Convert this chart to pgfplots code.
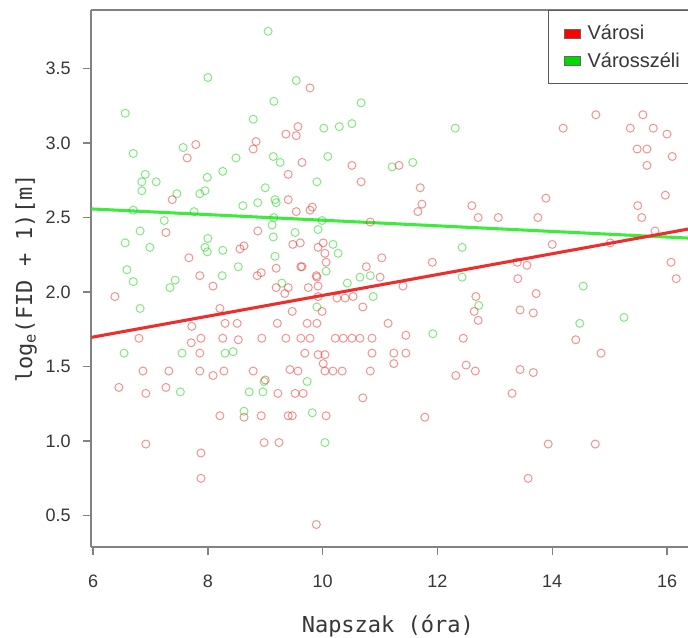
\documentclass[border=0pt]{standalone}
\usepackage{fontspec}
\setmainfont{Liberation Sans}
\setmonofont{DejaVu Sans Mono}
\usepackage{pgfplots}
\usepackage{pgfplotstable}
\pgfplotsset{compat=1.18}

\definecolor{axgray}{RGB}{130,130,130}
\definecolor{txtgray}{RGB}{55,55,55}
\definecolor{ptred}{RGB}{235,40,40}
\definecolor{ptgreen}{RGB}{30,215,30}
\definecolor{lnred}{RGB}{238,45,45}
\definecolor{lngreen}{RGB}{60,235,60}

% Városszéli (green)
\pgfplotstableread{
x y
9.05 3.75
8.00 3.44
9.54 3.42
9.15 3.28
10.67 3.27
6.56 3.20
8.79 3.16
12.31 3.10
10.02 3.10
10.29 3.11
10.51 3.13
7.57 2.97
6.70 2.93
8.49 2.90
9.14 2.91
9.26 2.87
10.09 2.91
11.21 2.84
11.57 2.87
8.26 2.81
7.99 2.77
6.91 2.79
6.85 2.74
7.10 2.74
6.85 2.68
9.90 2.74
9.00 2.70
7.46 2.66
7.86 2.66
7.95 2.68
9.17 2.62
9.19 2.60
8.61 2.58
8.87 2.60
6.70 2.55
7.76 2.54
9.15 2.50
7.24 2.48
9.99 2.48
9.92 2.42
6.82 2.41
6.56 2.33
6.99 2.30
8.00 2.36
7.95 2.30
7.99 2.27
9.12 2.45
9.14 2.37
9.52 2.40
10.18 2.32
10.27 2.26
8.26 2.28
9.17 2.24
8.53 2.17
6.59 2.15
6.70 2.07
8.25 2.11
10.06 2.14
10.65 2.10
10.83 2.11
12.43 2.30
12.43 2.10
9.29 2.06
10.43 2.06
7.43 2.08
7.34 2.03
10.88 1.97
9.90 1.90
6.82 1.89
12.72 1.91
14.54 2.04
11.92 1.72
14.48 1.79
15.25 1.83
6.54 1.59
7.55 1.59
8.30 1.59
8.44 1.60
7.52 1.33
8.72 1.33
8.96 1.33
8.98 1.40
9.73 1.40
9.82 1.19
8.63 1.20
10.04 0.99
}\szeli

% Városi (red)
\pgfplotstableread{
x y
9.78 3.37
9.57 3.11
9.36 3.06
9.54 3.05
7.79 2.99
8.84 3.01
8.79 2.96
7.64 2.90
9.64 2.87
10.51 2.85
10.67 2.74
9.40 2.79
7.38 2.62
9.40 2.62
9.82 2.57
9.78 2.55
9.54 2.54
7.27 2.40
8.87 2.41
9.48 2.32
9.61 2.33
10.01 2.33
9.92 2.30
10.04 2.26
10.06 2.20
8.63 2.31
8.56 2.29
7.67 2.23
11.03 2.23
9.62 2.17
10.76 2.17
9.19 2.16
7.86 2.11
8.93 2.13
8.86 2.11
9.89 2.11
11.00 2.10
11.33 2.85
11.70 2.70
11.73 2.59
11.66 2.54
10.83 2.47
14.76 3.19
15.58 3.19
14.19 3.10
15.36 3.10
15.76 3.10
16.00 3.06
15.48 2.96
15.65 2.96
16.09 2.91
15.65 2.85
15.97 2.65
12.60 2.58
12.71 2.50
13.06 2.50
13.75 2.50
13.89 2.63
15.49 2.58
15.56 2.50
15.79 2.41
15.01 2.33
14.00 2.32
11.91 2.20
13.39 2.20
13.56 2.18
16.07 2.20
16.16 2.09
13.40 2.09
11.40 2.04
13.72 1.99
12.67 1.97
12.64 1.87
12.71 1.81
13.44 1.88
13.67 1.86
11.14 1.79
11.45 1.71
12.45 1.69
14.41 1.68
14.85 1.59
11.24 1.59
11.45 1.59
11.24 1.52
12.50 1.51
12.32 1.44
12.66 1.47
13.44 1.48
13.67 1.46
13.30 1.32
11.78 1.16
13.93 0.98
14.75 0.98
13.58 0.75
6.38 1.97
6.80 1.69
7.72 1.77
7.71 1.66
7.88 1.69
7.86 1.59
8.26 1.69
8.53 1.68
8.21 1.89
8.30 1.79
8.51 1.79
8.94 1.69
9.21 1.79
9.36 1.69
9.62 1.69
9.78 1.69
9.73 1.79
9.90 1.79
9.47 1.87
9.69 1.59
9.92 1.58
10.04 1.58
10.01 1.52
10.22 1.69
10.36 1.69
10.51 1.69
10.65 1.69
10.86 1.69
10.86 1.59
10.70 1.90
6.87 1.47
7.32 1.47
7.86 1.47
8.09 1.44
8.28 1.47
8.79 1.47
9.43 1.48
9.57 1.47
10.04 1.47
10.18 1.47
10.34 1.47
10.83 1.47
6.45 1.36
6.92 1.32
7.27 1.36
9.22 1.32
9.52 1.32
9.66 1.32
10.70 1.29
8.21 1.17
8.63 1.16
8.93 1.17
9.40 1.17
9.47 1.17
10.06 1.17
6.92 0.98
8.98 0.99
9.24 0.99
7.88 0.92
7.88 0.75
9.89 0.44
8.09 2.04
9.19 2.03
9.40 2.03
9.34 1.99
9.64 2.17
9.90 2.10
9.75 2.03
9.92 2.04
9.92 1.97
10.25 1.96
10.39 1.96
10.53 1.97
9.99 1.87
9.00 1.41
}\varosi

\begin{document}
\begin{tikzpicture}
\begin{axis}[
    at={(0,0)}, anchor=south west,
    scale only axis,
    width=457.6pt, height=402.75pt,
    xmin=5.97, xmax=16.6,
    ymin=0.289, ymax=3.893,
    axis x line*=box, axis y line*=left,
    axis line style={-, draw=axgray, line width=1.3pt},
    tick pos=left,
    tick align=outside,
    major tick length=6pt,
    tick style={draw=axgray, line width=1pt},
    xtick={6,8,10,12,14,16},
    ytick={0.5,1,1.5,2,2.5,3,3.5},
    /pgf/number format/assume math mode=true,
    ticklabel style={font=\fontsize{13.5}{15}\selectfont, text=txtgray},
    yticklabel={\pgfmathprintnumber[fixed,fixed zerofill,precision=1]{\tick}},
    yticklabel style={anchor=east, xshift=-6pt},
    xticklabel style={yshift=-11.5pt},
    xlabel={\texttt{Napszak (óra)}},
    ylabel={\texttt{log\textsubscript{e}(FID + 1)[m]}},
    label style={font=\fontsize{16.5}{18}\selectfont, text=txtgray},
    xlabel style={at={(rel axis cs:0.486,0)}, anchor=center, yshift=-59pt},
    ylabel style={at={(rel axis cs:0,0.5)}, anchor=center, rotate=0, yshift=49pt},
    legend cell align=left,
    legend style={at={(rel axis cs:0.7487,1)}, anchor=north west,
        draw=black!65, line width=0.9pt,
        font=\fontsize{15}{17}\selectfont, text=txtgray,
        inner xsep=0pt, inner ysep=9pt, row sep=3.75pt},
]
\addlegendimage{legend image code/.code={\path (0pt,0pt) (26.25pt,0pt);
    \draw[fill=red, draw=black!60, line width=0.6pt] (11.25pt,-3.3pt) rectangle (23.25pt,3.3pt);}}
\addlegendentry{Városi}
\addlegendimage{legend image code/.code={\path (0pt,0pt) (26.25pt,0pt);
    \draw[fill=green!85!black, draw=black!60, line width=0.6pt] (11.25pt,-3.3pt) rectangle (23.25pt,3.3pt);}}
\addlegendentry{Városszéli\hspace{22pt}\mbox{}}

\addplot[forget plot, only marks, mark=o, mark size=3pt,
    mark options={draw=ptgreen, draw opacity=0.55, line width=0.75pt}] table {\szeli};
\addplot[forget plot, only marks, mark=o, mark size=3pt,
    mark options={draw=ptred, draw opacity=0.5, line width=0.75pt}] table {\varosi};

\addplot[forget plot, lngreen, line width=2.3pt] coordinates {(5.97,2.558) (16.6,2.358)};
\addplot[forget plot, lnred, line width=2.3pt] coordinates {(5.97,1.696) (16.6,2.439)};
\end{axis}
\pgfresetboundingbox
\useasboundingbox (-68.5pt,-67.5pt) rectangle (447.5pt,410.25pt);
\end{tikzpicture}
\end{document}
